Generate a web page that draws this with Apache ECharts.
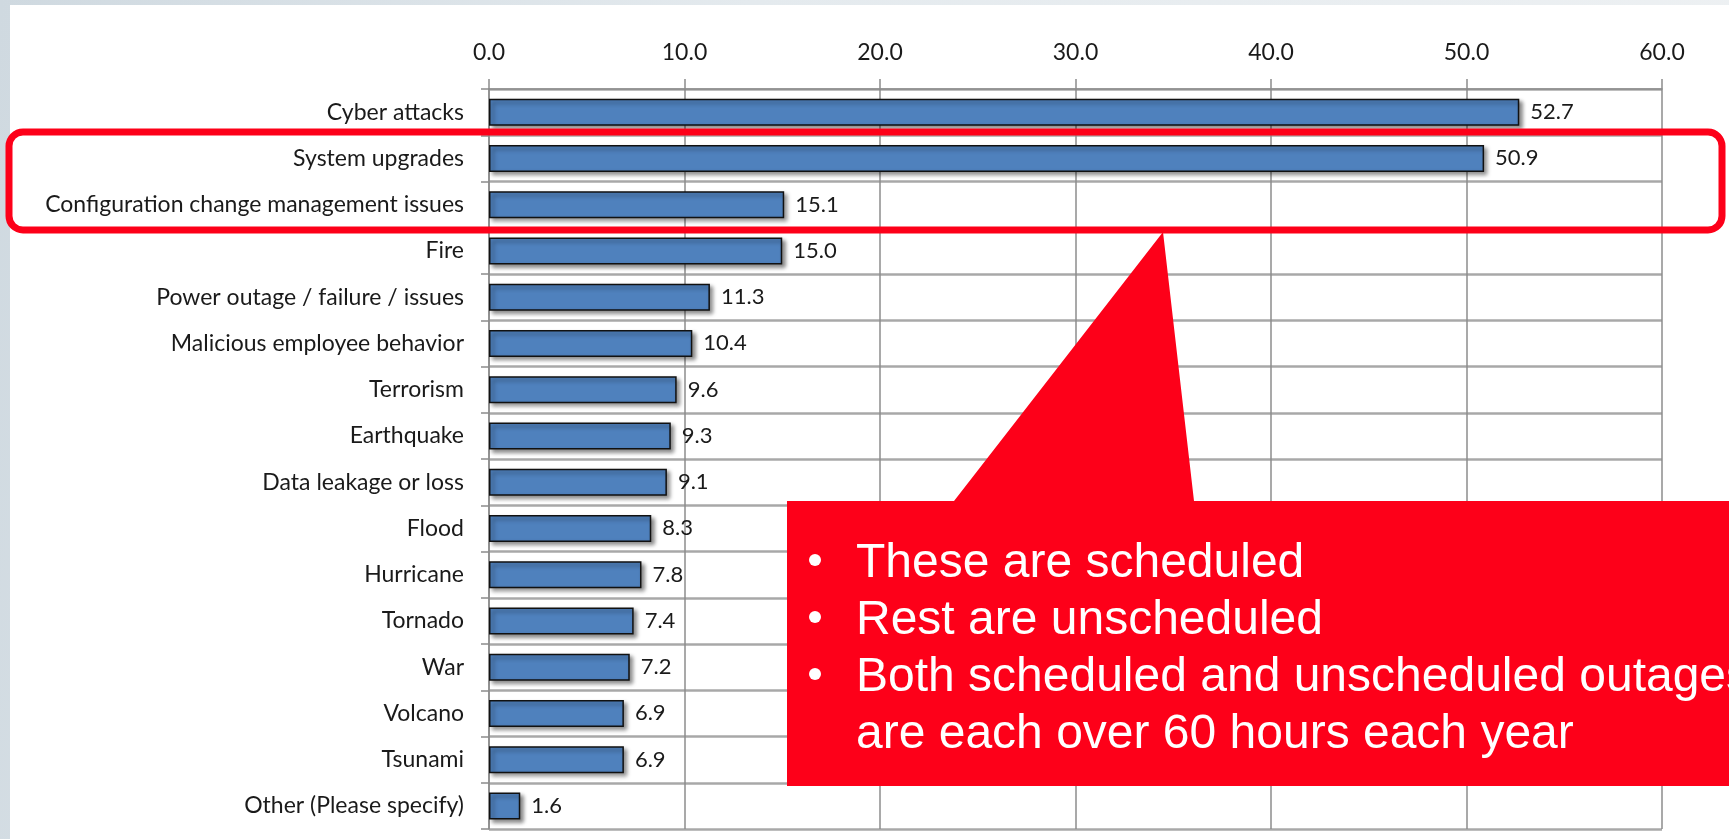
<!DOCTYPE html>
<html>
<head>
<meta charset="utf-8">
<script src="https://cdn.jsdelivr.net/npm/echarts@6/dist/echarts.min.js"></script>
<style>
  html, body { margin: 0; padding: 0; }
  body {
    width: 1729px; height: 839px; overflow: hidden;
    background: linear-gradient(100deg, #cfd9e0 0%, #e4eaee 40%, #eef1f3 100%);
    position: relative;
  }
  #panel { position: absolute; left: 10px; top: 5px; right: 0; bottom: 0; background: #fff; }
  #chart { position: absolute; left: 0; top: 0; width: 1729px; height: 839px; }
</style>
</head>
<body>
<div id="panel"></div>
<div id="chart"></div>
<script>
  // outage causes, hours per year (top to bottom as in the slide)
  const categories = [
    'Cyber attacks', 'System upgrades', 'Configuration change management issues',
    'Fire', 'Power outage / failure / issues', 'Malicious employee behavior',
    'Terrorism', 'Earthquake', 'Data leakage or loss', 'Flood', 'Hurricane',
    'Tornado', 'War', 'Volcano', 'Tsunami', 'Other (Please specify)'
  ]
  const hours = [52.7, 50.9, 15.1, 15.0, 11.3, 10.4, 9.6, 9.3, 9.1, 8.3, 7.8, 7.4, 7.2, 6.9, 6.9, 1.6]
  const calloutLines = [
    'These are scheduled',
    'Rest are unscheduled',
    'Both scheduled and unscheduled outages',
    'are each over 60 hours each year'
  ]
  const bullets = [true, true, true, false]

  const labelFont = 'Lato, "Open Sans", sans-serif'
  const textColor = '#1a1a1a'
  const red = '#fd0019'

  const chart = echarts.init(document.getElementById('chart'), null, {renderer: 'canvas'})

  const calloutText = calloutLines.map((line, i) => ({
    type: 'text',
    left: 856,
    top: 540 + i * 57,
    z: 101,
    style: {text: line, fill: '#fff', font: '48px "Liberation Sans", Arial, sans-serif'}
  }))
  const calloutBullets = bullets.map((b, i) => b ? ({
    type: 'circle',
    z: 101,
    shape: {cx: 815, cy: 560 + i * 57, r: 6},
    style: {fill: '#fff'}
  }) : null).filter(Boolean)

  const option = {
    animation: false,
    grid: {left: 489, right: 67, top: 89, bottom: 10},
    xAxis: {
      type: 'value',
      position: 'top',
      min: 0,
      max: 60,
      interval: 10,
      axisLine: {show: true, lineStyle: {color: '#8c8c8c', width: 1.5}},
      axisTick: {show: true, length: 10, lineStyle: {color: '#8c8c8c', width: 1.5}},
      splitLine: {show: true, lineStyle: {color: '#8c8c8c', width: 1.5}},
      axisLabel: {
        margin: 25,
        color: textColor,
        fontFamily: labelFont,
        fontSize: 23,
        formatter: v => v.toFixed(1)
      }
    },
    yAxis: {
      type: 'category',
      inverse: true,
      data: categories,
      axisLine: {show: true, lineStyle: {color: '#8c8c8c', width: 1.5}},
      axisTick: {show: true, length: 8, lineStyle: {color: '#8c8c8c', width: 1.5}},
      splitLine: {show: true, lineStyle: {color: '#a8a8a8', width: 2.5}},
      axisLabel: {margin: 25, color: textColor, fontFamily: labelFont, fontSize: 23}
    },
    series: [{
      type: 'bar',
      data: hours,
      barWidth: 27,
      itemStyle: {
        color: '#4f81bd',
        borderColor: '#111',
        borderWidth: 1.5,
        shadowColor: 'rgba(0,0,0,0.45)',
        shadowBlur: 4,
        shadowOffsetX: 3,
        shadowOffsetY: 3
      },
      label: {
        show: true,
        position: 'right',
        distance: 11,
        color: textColor,
        fontFamily: labelFont,
        fontSize: 22,
        formatter: p => p.value.toFixed(1)
      }
    }],
    graphic: [
      {
        type: 'rect',
        z: 100,
        shape: {x: 9, y: 132, width: 1713, height: 98, r: 14},
        style: {fill: 'none', stroke: red, lineWidth: 7}
      },
      {
        type: 'polygon',
        z: 100,
        shape: {points: [[787, 501], [954, 501], [1163, 232], [1194, 501], [1729, 501], [1729, 786], [787, 786]]},
        style: {fill: red}
      },
      ...calloutBullets,
      ...calloutText
    ]
  }

  chart.setOption(option)
</script>
</body>
</html>
